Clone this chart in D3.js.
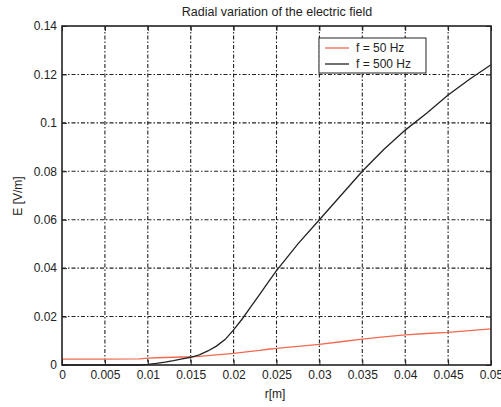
<!DOCTYPE html>
<html>
<head>
<meta charset="utf-8">
<script src="https://cdn.jsdelivr.net/npm/d3@7"></script>
<style>
  body { margin: 0; background: #fff; }
  svg text { font-family: "Liberation Sans", Arial, sans-serif; fill: #222; }
</style>
</head>
<body>
<svg id="chart" width="501" height="407"></svg>
<script>
// values
const rValues = [0, 0.005, 0.009, 0.01, 0.011, 0.012, 0.013, 0.014, 0.015, 0.016, 0.017, 0.018, 0.019, 0.02,
  0.021, 0.022, 0.023, 0.024, 0.025, 0.0275, 0.03, 0.0325, 0.035, 0.0375, 0.04, 0.0425, 0.045, 0.0475, 0.05];
const field500 = [0, 0, 0, 0.0003, 0.0007, 0.0012, 0.0018, 0.0025, 0.0032, 0.0042, 0.0058, 0.0078, 0.0105, 0.0145,
  0.019, 0.024, 0.029, 0.034, 0.039, 0.05, 0.06, 0.07, 0.08, 0.089, 0.097, 0.104, 0.1115, 0.118, 0.124];
const field50 = [0.0024, 0.0024, 0.0025, 0.0028, 0.003, 0.0031, 0.0032, 0.0033, 0.0034, 0.0036, 0.0039, 0.0042, 0.0045, 0.0048,
  0.0052, 0.0056, 0.006, 0.0065, 0.0069, 0.0077, 0.0085, 0.0096, 0.0107, 0.0116, 0.0124, 0.013, 0.0135, 0.0142, 0.0149];
const xTicks = [0, 0.005, 0.01, 0.015, 0.02, 0.025, 0.03, 0.035, 0.04, 0.045, 0.05];
const yTicks = [0, 0.02, 0.04, 0.06, 0.08, 0.1, 0.12, 0.14];
const xTickLabels = ["0", "0.005", "0.01", "0.015", "0.02", "0.025", "0.03", "0.035", "0.04", "0.045", "0.05"];
const yTickLabels = ["0", "0.02", "0.04", "0.06", "0.08", "0.1", "0.12", "0.14"];
const seriesNames = ["f = 50 Hz", "f = 500 Hz"];
const seriesColors = ["#f26a4f", "#222"];

const svg = d3.select("#chart");
const plotL = 62, plotR = 491, plotT = 26, plotB = 365;

const x = d3.scaleLinear().domain([0, 0.05]).range([plotL, plotR]);
const y = d3.scaleLinear().domain([0, 0.14]).range([plotB, plotT]);

// grid, dash-dot like the matlab export
const grid = svg.append("g").attr("stroke", "#222").attr("stroke-width", 1.1)
  .attr("stroke-dasharray", "4,2,1.5,2");
grid.selectAll(".gx").data(xTicks.slice(1, -1)).join("line")
  .attr("x1", d => x(d)).attr("x2", d => x(d))
  .attr("y1", plotT).attr("y2", plotB);
grid.selectAll(".gy").data(yTicks.slice(1, -1)).join("line")
  .attr("x1", plotL).attr("x2", plotR)
  .attr("y1", d => y(d)).attr("y2", d => y(d));

// lines
const line = d3.line().x((d, i) => x(rValues[i])).y(d => y(d));
[field50, field500].forEach((vals, i) => {
  svg.append("path").datum(vals)
    .attr("fill", "none")
    .attr("stroke", seriesColors[i])
    .attr("stroke-width", 1.3)
    .attr("d", line);
});

// axes
const axisBottom = d3.axisBottom(x).tickValues(xTicks).tickSize(-5).tickPadding(5)
  .tickFormat((d, i) => xTickLabels[i]);
const axisLeft = d3.axisLeft(y).tickValues(yTicks).tickSize(-5).tickPadding(5)
  .tickFormat((d, i) => yTickLabels[i]);
svg.append("g").attr("transform", `translate(0,${plotB})`).call(axisBottom);
svg.append("g").attr("transform", `translate(${plotL},0)`).call(axisLeft);
svg.append("g").attr("transform", `translate(0,${plotT})`)
  .call(d3.axisTop(x).tickValues(xTicks).tickSize(-5).tickFormat(""));
svg.append("g").attr("transform", `translate(${plotR},0)`)
  .call(d3.axisRight(y).tickValues(yTicks).tickSize(-5).tickFormat(""));
svg.selectAll(".domain").remove();
svg.selectAll(".tick line").attr("stroke", "#222");
svg.selectAll(".tick text").attr("font-size", 12).style("fill", "#222");

svg.append("rect")
  .attr("x", plotL).attr("y", plotT)
  .attr("width", plotR - plotL).attr("height", plotB - plotT)
  .attr("fill", "none").attr("stroke", "#222").attr("stroke-width", 1.6);

// labels
svg.append("text").attr("x", 277).attr("y", 16).attr("text-anchor", "middle")
  .attr("font-size", 12.5).text("Radial variation of the electric field");
svg.append("text").attr("x", 275).attr("y", 398).attr("text-anchor", "middle")
  .attr("font-size", 12).text("r[m]");
svg.append("text").attr("transform", "translate(22,196) rotate(-90)")
  .attr("text-anchor", "middle").attr("font-size", 12).text("E [V/m]");

// legend
const legend = svg.append("g").attr("transform", "translate(319,38)");
legend.append("rect").attr("width", 107).attr("height", 35)
  .attr("fill", "#fff").attr("stroke", "#222").attr("stroke-width", 1);
seriesNames.forEach((name, i) => {
  const ly = 10 + i * 16;
  legend.append("line").attr("x1", 6).attr("x2", 30).attr("y1", ly).attr("y2", ly)
    .attr("stroke", seriesColors[i]).attr("stroke-width", 1.3);
  legend.append("text").attr("x", 37).attr("y", ly + 4).attr("font-size", 12).text(name);
});
</script>
</body>
</html>
